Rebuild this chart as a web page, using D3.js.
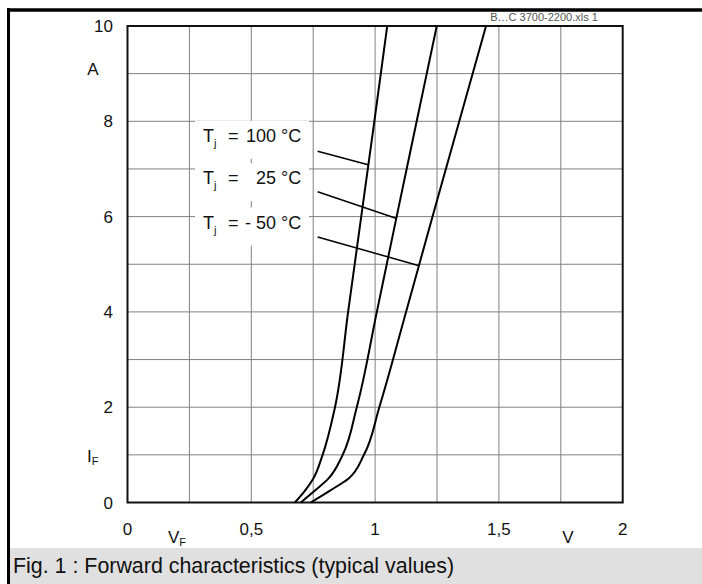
<!DOCTYPE html>
<html lang="en">
<head>
<meta charset="UTF-8">
<title>Forward characteristics</title>
<script src="https://cdn.jsdelivr.net/npm/d3@7.9.0/dist/d3.min.js"></script>
<style>
    body {
        margin: 0;
        background: #fff;
        font-family: "Liberation Sans", Arial, sans-serif;
    }
    svg { display: block; }
    .grid line { stroke: #808080; stroke-width: 1; }
    .tick-label { font-size: 17px; fill: #111; }
    .curve { fill: none; stroke: #000; stroke-width: 2; }
    .leader { stroke: #000; stroke-width: 1.5; }
    .tlabel { font-size: 18px; fill: #111; white-space: pre; }
</style>
</head>
<body>
<svg id="chart" width="702" height="584"></svg>
<script>
    // --- data ---
    const currentA = [0, 0.25, 0.5, 1, 2, 4, 6, 8, 10];           // I_F (A)
    const vf100 = [0.676, 0.717, 0.750, 0.788, 0.838, 0.891, 0.944, 0.997, 1.049];
    const vf25  = [0.700, 0.757, 0.811, 0.869, 0.926, 1.007, 1.087, 1.168, 1.249];
    const vfM50 = [0.740, 0.818, 0.892, 0.955, 1.017, 1.125, 1.232, 1.340, 1.448];

    const xTicks = [0, 0.5, 1, 1.5, 2];
    const xTickLabels = ["0", "0,5", "1", "1,5", "2"];
    const xGrid = [0.25, 0.5, 0.75, 1, 1.25, 1.5, 1.75];
    const yTicks = [0, 2, 4, 6, 8, 10];
    const yGrid = [1, 2, 3, 4, 5, 6, 7, 8, 9];

    const tempValues = ["100", "25", "- 50"];
    const labelCurrent = [7.57, 6.68, 5.75];   // baseline of each label, in A
    // leader lines: start (V, A) -> end on curve (V, A)
    const leaderFrom = [[0.768, 7.37], [0.768, 6.52], [0.768, 5.57]];
    const leaderTo   = [[0.972, 7.09], [1.087, 5.96], [1.178, 4.97]];

    const svg = d3.select("#chart");
    const x = d3.scaleLinear().domain([0, 2]).range([127.5, 622.7]);
    const y = d3.scaleLinear().domain([0, 10]).range([502.5, 26]);

    // frame + caption band
    svg.append("rect").attr("x", 10).attr("y", 548).attr("width", 692).attr("height", 36).attr("fill", "#e0e0e0");
    svg.append("line").attr("x1", 7).attr("x2", 702).attr("y1", 10).attr("y2", 10).attr("stroke", "#000").attr("stroke-width", 3.5);
    svg.append("line").attr("x1", 8.5).attr("x2", 8.5).attr("y1", 8).attr("y2", 584).attr("stroke", "#000").attr("stroke-width", 3);
    svg.append("text").attr("x", 13).attr("y", 573).attr("font-size", 21.4).attr("fill", "#111")
        .text("Fig. 1 : Forward characteristics (typical values)");
    svg.append("text").attr("x", 544).attr("y", 21).attr("font-size", 11).attr("fill", "#555")
        .attr("text-anchor", "middle").text("B…C 3700-2200.xls 1");

    // grid
    const grid = svg.append("g").attr("class", "grid");
    grid.selectAll(".vx").data(xGrid).enter().append("line")
        .attr("x1", d => x(d)).attr("x2", d => x(d)).attr("y1", y(0)).attr("y2", y(10));
    grid.selectAll(".hy").data(yGrid).enter().append("line")
        .attr("x1", x(0)).attr("x2", x(2)).attr("y1", d => y(d)).attr("y2", d => y(d));

    // plot frame
    svg.append("rect").attr("x", x(0)).attr("y", y(10))
        .attr("width", x(2) - x(0)).attr("height", y(0) - y(10))
        .attr("fill", "none").attr("stroke", "#111").attr("stroke-width", 2);

    // tick labels
    svg.selectAll(".yl").data(yTicks).enter().append("text")
        .attr("class", "tick-label").attr("x", 113).attr("y", d => y(d)).attr("dy", "0.36em")
        .attr("text-anchor", "end").text(d => d);
    svg.selectAll(".xl").data(xTicks).enter().append("text")
        .attr("class", "tick-label").attr("x", d => x(d)).attr("y", 535)
        .attr("text-anchor", "middle").text((d, i) => xTickLabels[i]);

    // axis titles
    svg.append("text").attr("class", "tick-label").attr("x", 93).attr("y", 75).attr("text-anchor", "middle").text("A");
    const iF = svg.append("text").attr("class", "tick-label").attr("x", 87).attr("y", 462);
    iF.append("tspan").text("I");
    iF.append("tspan").attr("font-size", 11).attr("dy", 3).text("F");
    const vF = svg.append("text").attr("class", "tick-label").attr("x", 168).attr("y", 543);
    vF.append("tspan").text("V");
    vF.append("tspan").attr("font-size", 11).attr("dy", 3).text("F");
    svg.append("text").attr("class", "tick-label").attr("x", 568).attr("y", 543).attr("text-anchor", "middle").text("V");

    // curves
    const line = d3.line()
        .x(d => x(d[0]))
        .y(d => y(d[1]))
        .curve(d3.curveMonotoneY);
    [vf100, vf25, vfM50].forEach(series => {
        svg.append("path").attr("class", "curve")
            .attr("d", line(series.map((v, i) => [v, currentA[i]])));
    });

    // temperature labels with white backing
    const labels = svg.append("g");
    labelCurrent.forEach((c, i) => {
        const by = y(c);
        labels.append("rect").attr("x", 195).attr("y", by - 21).attr("width", 114).attr("height", 38).attr("fill", "#fff");
        const t = labels.append("text").attr("class", "tlabel").attr("x", 203).attr("y", by);
        t.append("tspan").text("T");
        t.append("tspan").attr("font-size", 11).attr("dy", 5).text("j");
        labels.append("text").attr("class", "tlabel").attr("x", 228).attr("y", by).text("=");
        labels.append("text").attr("class", "tlabel").attr("x", 276).attr("y", by).attr("text-anchor", "end").text(tempValues[i]);
        labels.append("text").attr("class", "tlabel").attr("x", 281).attr("y", by).text("°C");
    });

    svg.selectAll(".leader").data(leaderFrom).enter().append("line")
        .attr("class", "leader")
        .attr("x1", d => x(d[0])).attr("y1", d => y(d[1]))
        .attr("x2", (d, i) => x(leaderTo[i][0])).attr("y2", (d, i) => y(leaderTo[i][1]));
</script>
</body>
</html>
